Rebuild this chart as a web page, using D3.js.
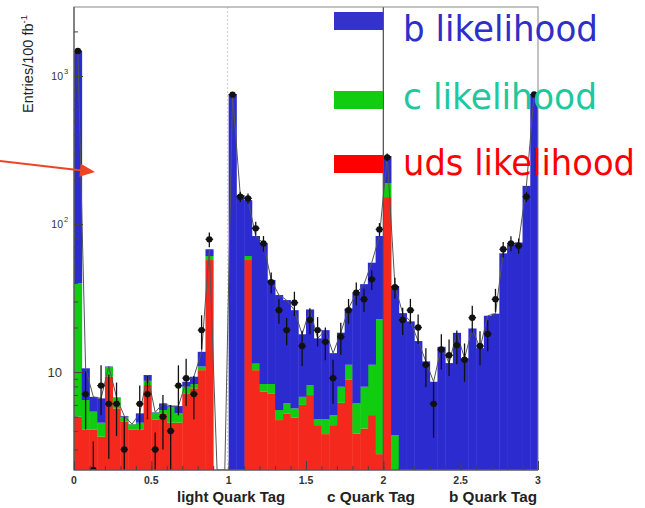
<!DOCTYPE html>
<html><head><meta charset="utf-8">
<script src="https://cdn.jsdelivr.net/npm/d3@7"></script>
<style>body{margin:0;background:#fff;overflow:hidden}</style>
</head><body><svg id="c" width="645" height="508"></svg>
<script>
// ---- data ----
const binW = 0.05;
const binLow = d3.range(60).map(i => i * binW);
const sectionTitles = ["light Quark Tag", "c Quark Tag", "b Quark Tag"];
const xTickValues = [0, 0.5, 1, 1.5, 2, 2.5, 3];
const xTickLabels = ["0", "0.5", "1", "1.5", "2", "2.5", "3"];
const yTickValues = [10, 100, 1000];
const yTickBase = ["10", "10", "10"];
const yTickExp = ["", "2", "3"];
const legendLabels = ["b likelihood", "c likelihood", "uds likelihood"];

const udsLik = [5.0, 4.1, 4.1, 3.66, 9.3, 5.68, 4.62, 4.1, 4.1, 8.17, 4.79, 5.26, 4.55, 4.55, 7.18, 7.76, 10.3, 57.1, 0, 0,
  0, 0, 57.1, 10.3, 7.36, 7.18, 4.74, 5.26, 4.94, 6.0, 6.99, 4.38, 3.81, 4.38, 6.2, 8.93, 3.85, 4.16, 5.12, 2.79,
  152, 0, 0, 0, 0, 0, 0, 0, 0, 0, 0, 0, 0, 0, 0, 0, 0, 0, 0, 0];
const cLik = [34.7, 2.37, 1.3, 0.89, 1.5, 1.03, 0.37, 0.33, 0.45, 0.56, 0.52, 0.28, 1.28, 0.71, 0.78, 0.54, 0.6, 3.7, 0, 0,
  0, 0, 3.7, 1.1, 0.94, 1.12, 0.8, 0.88, 0.74, 0.8, 1.18, 0.41, 0.98, 0.74, 1.76, 2.27, 2.29, 3.8, 6.08, 19.9,
  36, 3.75, 0, 0, 0, 0, 0, 0, 0, 0, 0, 0, 0, 0, 0, 0, 0, 0, 0, 0];
const bLik = [1436, 4.13, 1.4, 2.09, 0.1, 0.04, 0.06, 0.02, 0.71, 0.82, 0.04, 0.6, 0.07, 0.63, 0.64, 1.0, 2.8, 6.7, 0, 0,
  755, 157, 84.2, 71.6, 65.7, 33.6, 27.6, 24.5, 20.5, 11.2, 18.3, 12.1, 14.4, 8.3, 10.5, 15.7, 27.9, 31.3, 43.6, 60.3,
  100, 34.4, 25, 22.0, 16.2, 11.8, 8.6, 14.8, 11.5, 18.4, 12.4, 19.7, 14.5, 24, 24.8, 63.4, 73, 75, 181, 755];
const dataPts = [1476, 7.1, 1.0, 8.1, 6.1, 6.1, 3.0, null, 6.1, 7.1, 3.0, 5.0, 4.0, 8.1, 9.1, 7.1, 19.2, 78.8, null, null,
  748, 153, 149, 93.5, 74, 40.5, 26.2, 19.2, 29.4, 15.0, 22.5, 19.2, 16.0, 9.1, 17.3, 26.2, 34.3, 31.0, 42.3, 92,
  282, 37.4, 22.5, 26.2, 20.0, 11.2, 6.1, 14.2, 13.0, 15.2, 12.1, 23.3, 15.0, 18.1, 31.0, 67.5, 74, 71.3, 153, 750];
const dataErr = [38, 3.0, 2.4, 3.0, 3.5, 2.4, 2.0, 0, 2.0, 2.3, 0.9, 2.0, 2.0, 3.0, 3.2, 2.3, 5.0, 9, 0, 0,
  27, 12, 12, 10, 9, 6.5, 5, 4, 5.5, 4, 4.5, 4.3, 4, 3, 4.2, 5, 6, 5.5, 6.5, 9.5,
  17, 6, 4.7, 5, 4.5, 3.3, 2.5, 3.8, 3.6, 3.9, 3.5, 4.8, 3.9, 4.3, 5.5, 8, 8.6, 8.4, 12, 27];

// ---- scales ----
const L = 74, R = 538, T = 7, B = 470;
const svg = d3.select("#c");
const x = d3.scaleLinear().domain([0, 3]).range([L, R]);
const yMin = 2.18, yMax = 2924;
const y = d3.scaleLog().domain([yMin, yMax]).range([B, T]).clamp(true);
const yc = v => y(Math.max(v, yMin));

svg.append("defs").append("clipPath").attr("id", "clip")
  .append("rect").attr("x", L).attr("y", T).attr("width", R - L).attr("height", B - T);

// dotted separator at 1
svg.append("line").attr("x1", x(1) - 1).attr("x2", x(1) - 1).attr("y1", T).attr("y2", B)
  .attr("stroke", "#d6c4cc").attr("stroke-width", 1).attr("stroke-dasharray", "2,2");

const rows = binLow.map((lo, i) => ({ lo, uds: udsLik[i], c: cLik[i], b: bLik[i] }));
const stacked = d3.stack().keys(["uds", "c", "b"])(rows);
const colors = { uds: "#f4281c", c: "#11cc11", b: "#2b2bd0" };

const plot = svg.append("g").attr("clip-path", "url(#clip)");
stacked.forEach(layer => {
  plot.append("g").attr("fill", colors[layer.key])
    .selectAll("rect").data(layer.filter(d => d[1] > d[0] && d[1] > yMin)).join("rect")
    .attr("x", d => x(d.data.lo))
    .attr("width", d => x(d.data.lo + binW) - x(d.data.lo) + 0.4)
    .attr("y", d => yc(d[1]))
    .attr("height", d => yc(d[0]) - yc(d[1]));
});

// MC curve
const totals = rows.map(r => r.uds + r.c + r.b);
plot.append("path").datum(totals)
  .attr("d", d3.line().x((d, i) => x(binLow[i] + binW / 2)).y(d => yc(d)))
  .attr("fill", "none").attr("stroke", "#555").attr("stroke-width", 1);

// data points
const pts = dataPts.map((v, i) => ({ v, e: dataErr[i], cx: x(binLow[i] + binW / 2) })).filter(d => d.v != null);
const pg = plot.append("g");
pg.selectAll("line.err").data(pts).join("line").attr("class", "err")
  .attr("x1", d => d.cx).attr("x2", d => d.cx)
  .attr("y1", d => yc(d.v - d.e)).attr("y2", d => yc(d.v + d.e))
  .attr("stroke", "#111").attr("stroke-width", 1.3);
pg.selectAll("line.h").data(pts).join("line").attr("class", "h")
  .attr("x1", d => d.cx - 3.8).attr("x2", d => d.cx + 3.8)
  .attr("y1", d => y(d.v)).attr("y2", d => y(d.v))
  .attr("stroke", "#111").attr("stroke-width", 1.3);
pg.selectAll("circle").data(pts).join("circle")
  .attr("cx", d => d.cx).attr("cy", d => y(d.v)).attr("r", 3.2).attr("fill", "#111");

// separator at 2
svg.append("line").attr("x1", x(2)).attr("x2", x(2)).attr("y1", T).attr("y2", B)
  .attr("stroke", "#555").attr("stroke-width", 1.3);

// frame
svg.append("rect").attr("x", L).attr("y", T).attr("width", R - L).attr("height", B - T)
  .attr("fill", "none").attr("stroke", "#888").attr("stroke-width", 1);

// axes
const yMinor = [];
[1, 10, 100, 1000].forEach(d => [2, 3, 4, 5, 6, 7, 8, 9].forEach(k => { const v = d * k; if (v >= yMin && v <= yMax) yMinor.push(v); }));
svg.append("g").attr("transform", `translate(${L},0)`)
  .call(d3.axisRight(y).tickValues(yMinor).tickSize(4).tickFormat(""))
  .call(g => { g.select(".domain").remove(); g.selectAll("line").attr("stroke", "#444"); });
svg.append("g").attr("transform", `translate(${L},0)`)
  .call(d3.axisRight(y).tickValues(yTickValues).tickSize(9).tickFormat(""))
  .call(g => { g.select(".domain").attr("stroke", "#444").attr("d", `M0,${T}V${B}`); g.selectAll("line").attr("stroke", "#444"); });

const xMinor = d3.range(0, 31).map(i => i / 10);
svg.append("g").attr("transform", `translate(0,${B})`)
  .call(d3.axisTop(x).tickValues(xMinor).tickSize(4).tickFormat(""))
  .call(g => { g.select(".domain").remove(); g.selectAll("line").attr("stroke", "#444"); });
svg.append("g").attr("transform", `translate(0,${B})`)
  .call(d3.axisTop(x).tickValues(xTickValues).tickSize(9).tickFormat(""))
  .call(g => { g.select(".domain").attr("stroke", "#444").attr("d", `M${L},0H${R}`); g.selectAll("line").attr("stroke", "#444"); });

// x tick labels
svg.append("g").selectAll("text").data(xTickValues).join("text")
  .attr("x", d => x(d)).attr("y", 484).attr("text-anchor", "middle")
  .attr("font-family", "Liberation Sans, Arial, sans-serif").attr("font-weight", "bold")
  .attr("font-size", 10.5).attr("fill", "#333")
  .text((d, i) => xTickLabels[i]);

// y tick labels
yTickValues.forEach((v, i) => {
  const ty = y(v);
  if (yTickExp[i] === "") {
    svg.append("text").attr("x", 62).attr("y", ty + 4.5).attr("text-anchor", "end")
      .attr("font-family", "Liberation Sans, Arial, sans-serif").attr("font-size", 13).attr("fill", "#333")
      .text(yTickBase[i]);
  } else {
    svg.append("text").attr("x", 63).attr("y", ty + 4).attr("text-anchor", "end")
      .attr("font-family", "Liberation Sans, Arial, sans-serif").attr("font-size", 10.5).attr("fill", "#333")
      .text(yTickBase[i]);
    svg.append("text").attr("x", 64).attr("y", ty - 2).attr("text-anchor", "start")
      .attr("font-family", "Liberation Sans, Arial, sans-serif").attr("font-size", 7.5).attr("fill", "#333")
      .text(yTickExp[i]);
  }
});

// y axis title
const yt = svg.append("text").attr("transform", "translate(33,113) rotate(-90)")
  .attr("font-family", "Liberation Sans, Arial, sans-serif").attr("font-size", 14.5).attr("fill", "#222");
yt.append("tspan").text("Entries/100 fb");
yt.append("tspan").attr("dy", -6).attr("font-size", 9.5).text("-1");

// section titles
const titleX = [177, 327, 449], titleW = [108, 88, 88];
sectionTitles.forEach((t, i) => {
  svg.append("text").attr("x", titleX[i]).attr("y", 502)
    .attr("font-family", "Liberation Sans, Arial, sans-serif").attr("font-weight", "bold")
    .attr("font-size", 15).attr("fill", "#222")
    .attr("textLength", titleW[i]).attr("lengthAdjust", "spacingAndGlyphs").text(t);
});

// legend
const legRectY = [12, 91, 155];
const legRectCol = ["#3333cc", "#11cc11", "#ff0000"];
const legTextCol = ["#2e2ec8", "#1ec89e", "#ff0000"];
const legTextY = [41, 109, 175];
const legTextW = [195, 194, 232];
legendLabels.forEach((t, i) => {
  svg.append("rect").attr("x", 334).attr("y", legRectY[i]).attr("width", 49).attr("height", 18).attr("fill", legRectCol[i]);
  svg.append("text").attr("x", 403).attr("y", legTextY[i])
    .attr("font-family", "DejaVu Sans, sans-serif").attr("font-size", 35).attr("fill", legTextCol[i])
    .attr("textLength", legTextW[i]).attr("lengthAdjust", "spacingAndGlyphs").text(t);
});

// red arrow
svg.append("line").attr("x1", 0).attr("y1", 161).attr("x2", 82).attr("y2", 170.5)
  .attr("stroke", "#ee4422").attr("stroke-width", 2);
svg.append("polygon").attr("points", "95,172 79.3,176.8 80.9,163.8").attr("fill", "#ee4422");
</script>
</body></html>
